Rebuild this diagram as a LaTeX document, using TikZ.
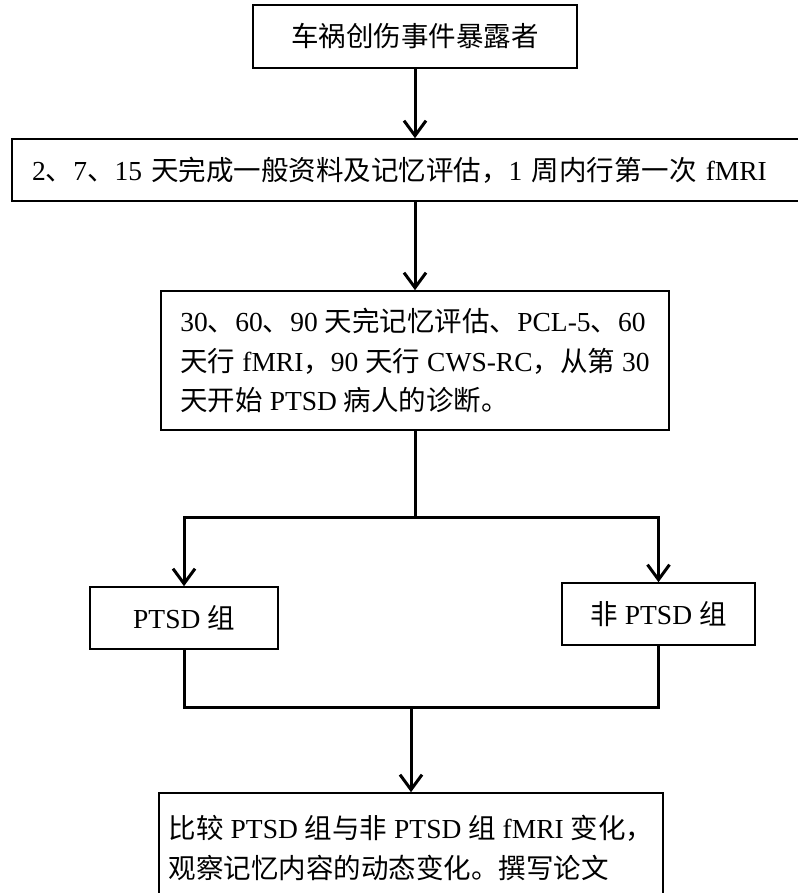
\documentclass[tikz,border=0pt]{standalone}
\usepackage{fontspec}
\setmainfont{Liberation Serif}
\newfontfamily\cjk{Noto Sans CJK SC}
\newcommand{\zh}[1]{{\cjk #1}}
\usetikzlibrary{arrows.meta}

\begin{document}
\begin{tikzpicture}[x=1pt, y=-1pt, main/.style={draw, line width=1.6pt, minimum height=62pt, font=\fontsize{27.5}{39.5}\selectfont}, line width=3pt, >={Straight Barb[length=15pt,width=22pt]}]
		\useasboundingbox (0,0) rectangle (797,893);
		\node[main, minimum width=324pt, minimum height=63pt] (1) at (415,36.5) {\zh{车祸创伤事件暴露者}};
		\node[main, minimum width=806pt, text width=766pt, align=left] (2) at (415,170) {2\zh{、}7\zh{、}15 \zh{天完成一般资料及记忆评估，}1 \zh{周内行第一次} fMRI};
		\node[main, minimum width=508pt, minimum height=139pt, align=left] (3) at (415,360.5) {30\zh{、}60\zh{、}90 \zh{天完记忆评估、}PCL-5\zh{、}60\\\zh{天行} fMRI\zh{，}90 \zh{天行} CWS-RC\zh{，从第} 30\\\zh{天开始} PTSD \zh{病人的诊断。}};
		\node[main, minimum width=188pt] (4) at (184,618) {PTSD \zh{组}};
		\node[main, minimum width=193pt] (5) at (658.5,614) {\zh{非} PTSD \zh{组}};
		\node[main, minimum width=504pt, minimum height=110pt, align=left] (6) at (411,848) {\zh{比较} PTSD \zh{组与非} PTSD \zh{组} fMRI \zh{变化，}\\\zh{观察记忆内容的动态变化。撰写论文}};
		\coordinate (split) at (415,517);
		\coordinate (join) at (411,707);

		\draw[->] (1) to (2);
		\draw[->] (2) to (3);
		\draw (3) to (split);
		\draw[->] (split) -| (4);
		\draw[->] (split) -| (5);
		\draw (4) |- (join);
		\draw (5) |- (join);
		\draw[->] (join) to (6);

	\end{tikzpicture}
\end{document}
